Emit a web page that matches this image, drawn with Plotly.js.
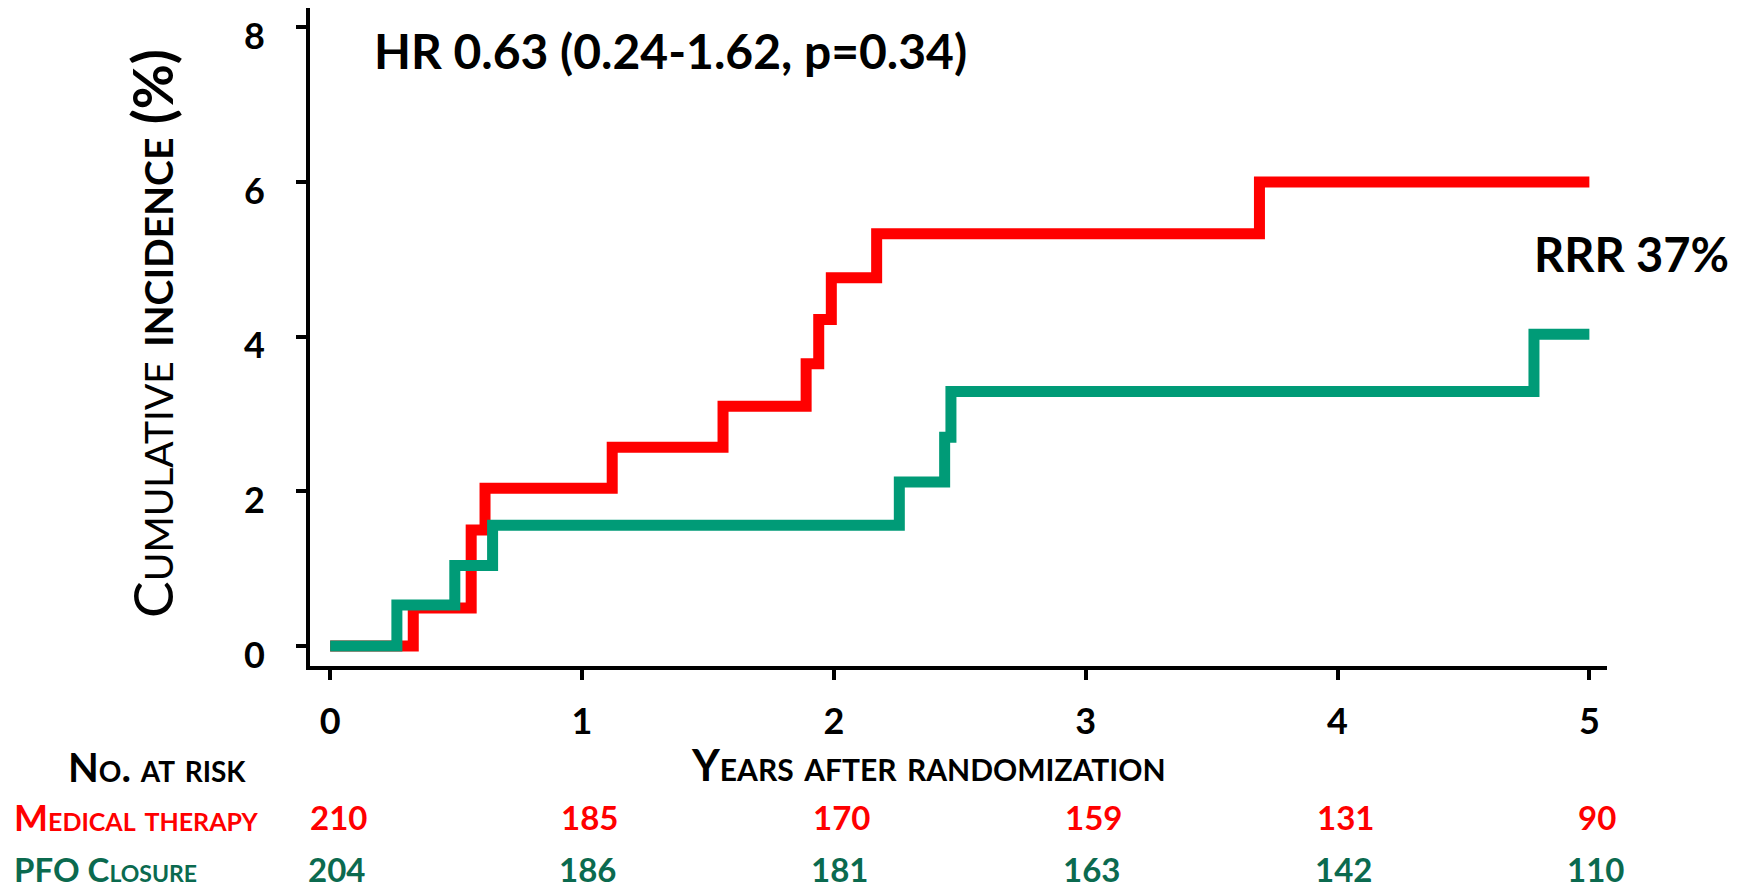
<!DOCTYPE html>
<html>
<head>
<meta charset="utf-8">
<script src="https://cdn.plot.ly/plotly-3.0.1.min.js"></script>
<style>html,body{margin:0;padding:0;background:#fff;}#chart{width:1744px;height:889px;}</style>
</head>
<body>
<div id="chart"></div>
<script>
// Kaplan-Meier style cumulative incidence (%)
var medYears = [0, 0.33, 0.56, 0.615, 1.12, 1.56, 1.89, 1.94, 1.99, 2.17, 3.69, 5.0];
var medIncidence = [0, 0.49, 1.5, 2.04, 2.57, 3.1, 3.65, 4.22, 4.76, 5.33, 6.0, 6.0];
var pfoYears = [0, 0.265, 0.495, 0.645, 2.26, 2.44, 2.465, 4.78, 5.0];
var pfoIncidence = [0, 0.53, 1.04, 1.56, 2.12, 2.7, 3.29, 4.03, 4.03];

var riskYears = [0, 1, 2, 3, 4, 5];
var medAtRisk = [210, 185, 170, 159, 131, 90];
var pfoAtRisk = [204, 186, 181, 163, 142, 110];

var xTicks = [0, 1, 2, 3, 4, 5];
var yTicks = [0, 2, 4, 6, 8];

var RED = '#FF0000';
var GREEN = '#009B77';
var DARKGREEN = '#0B6A4F';
var FONT = 'Lato, "Open Sans", sans-serif';

var traces = [
  {x: medYears, y: medIncidence, type: 'scatter', mode: 'lines',
   line: {shape: 'hv', color: RED, width: 11}, hoverinfo: 'skip', name: 'Medical therapy'},
  {x: pfoYears, y: pfoIncidence, type: 'scatter', mode: 'lines',
   line: {shape: 'hv', color: GREEN, width: 11}, hoverinfo: 'skip', name: 'PFO Closure'}
];

var annotations = [];
function ann(text, x, y, xanchor, size, color, weight, extra) {
  var a = {text: text, x: x, y: y, xref: 'paper', yref: 'paper', xanchor: xanchor, yanchor: 'middle',
    showarrow: false, borderpad: 0, font: {family: FONT, size: size, color: color, weight: weight}};
  if (extra) for (var k in extra) { if (k === 'font') { for (var f in extra.font) a.font[f] = extra.font[f]; } else a[k] = extra[k]; }
  annotations.push(a);
}
ann('HR 0.63 (0.24-1.62, p=0.34)', 0.0486, 0.936, 'left', 48, '#000', 700);
ann('RRR 37%', 0.943, 0.626, 'left', 47, '#000', 700);
ann('Cumulative <b>incidence (%)</b>', -0.1218, 0.5046, 'center', 55, '#000', 400, {textangle: -90, font: {variant: 'small-caps'}});
ann('Years after randomization', 0.477, -0.150, 'center', 43, '#000', 700, {font: {variant: 'small-caps'}});
ann('No. at risk', -0.0486, -0.1535, 'right', 40, '#000', 700, {font: {variant: 'small-caps'}});
ann('Medical therapy', -0.229, -0.2295, 'left', 36, RED, 700, {font: {variant: 'small-caps'}});
ann('PFO Closure', -0.229, -0.309, 'left', 33, DARKGREEN, 700, {font: {variant: 'small-caps'}});

for (var i = 0; i < riskYears.length; i++) {
  annotations.push({text: String(medAtRisk[i]), x: riskYears[i], xref: 'x', y: -0.2295, yref: 'paper',
    xanchor: 'center', yanchor: 'middle', xshift: 8, showarrow: false, borderpad: 0,
    font: {family: FONT, size: 33, color: RED, weight: 700}});
  annotations.push({text: String(pfoAtRisk[i]), x: riskYears[i], xref: 'x', y: -0.309, yref: 'paper',
    xanchor: 'center', yanchor: 'middle', xshift: 6, showarrow: false, borderpad: 0,
    font: {family: FONT, size: 33, color: DARKGREEN, weight: 700}});
}

var layout = {
  width: 1744, height: 889,
  margin: {l: 310, r: 137, t: 8, b: 223, pad: 0},
  paper_bgcolor: '#fff', plot_bgcolor: '#fff',
  showlegend: false,
  font: {family: FONT, color: '#000'},
  xaxis: {
    range: [-0.08, 5.07], tickvals: xTicks, ticktext: xTicks.map(String),
    showgrid: false, zeroline: false, showline: true, linecolor: '#000', linewidth: 4,
    ticks: 'outside', ticklen: 10, tickwidth: 4, tickcolor: '#000',
    tickfont: {family: FONT, size: 36, color: '#000', weight: 700},
    ticklabelstandoff: 11, fixedrange: true
  },
  yaxis: {
    range: [-0.26, 8.25], tickvals: yTicks, ticktext: yTicks.map(String),
    showgrid: false, zeroline: false, showline: true, linecolor: '#000', linewidth: 4,
    ticks: 'outside', ticklen: 10, tickwidth: 4, tickcolor: '#000',
    tickfont: {family: FONT, size: 36, color: '#000', weight: 700},
    ticklabelstandoff: 24, ticklabelshift: 9, fixedrange: true
  },
  annotations: annotations
};

Plotly.newPlot('chart', traces, layout, {displayModeBar: false, staticPlot: true});
</script>
</body>
</html>
